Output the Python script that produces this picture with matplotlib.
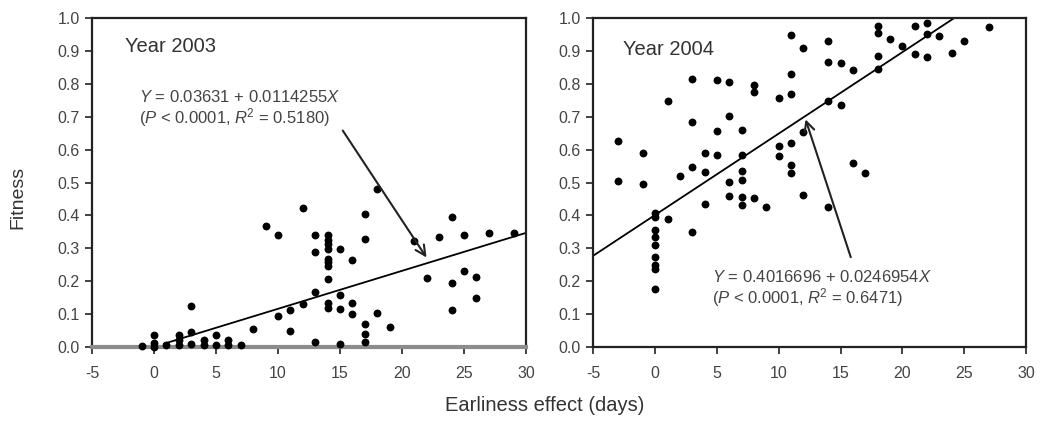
import matplotlib
matplotlib.use("Agg")
import matplotlib.pyplot as plt

plt.rcParams['font.family'] = ['Liberation Sans', 'DejaVu Sans']
plt.rcParams['axes.unicode_minus'] = False
plt.rcParams['mathtext.fontset'] = 'custom'
plt.rcParams['mathtext.rm'] = 'Liberation Sans'
plt.rcParams['mathtext.it'] = 'Liberation Sans:italic'

# Year 2003 - earliness effect (days) vs fitness
x_2003 = [-1, 0, 0, 0, 1, 2, 2, 2, 3, 3, 3, 4, 4, 5, 5, 6, 6, 7, 8,
          9, 10, 10, 11, 11, 12, 12, 13, 13, 13, 13,
          14, 14, 14, 14, 14, 14, 14, 14, 14, 14,
          15, 15, 15, 15, 16, 16, 16, 17, 17, 17, 17, 17,
          18, 18, 19, 21, 22, 23, 24, 24, 24, 25, 25, 26, 26, 27, 29]
y_2003 = [0.003, 0.035, 0.013, 0.0, 0.005, 0.035, 0.02, 0.005, 0.125, 0.047, 0.008,
          0.02, 0.005, 0.035, 0.005, 0.02, 0.005, 0.005, 0.055,
          0.367, 0.34, 0.094, 0.112, 0.048, 0.423, 0.132, 0.342, 0.29, 0.166, 0.015,
          0.342, 0.326, 0.313, 0.299, 0.268, 0.258, 0.245, 0.206, 0.135, 0.118,
          0.299, 0.158, 0.115, 0.01, 0.265, 0.135, 0.10, 0.403, 0.328, 0.071, 0.041, 0.015,
          0.479, 0.103, 0.061, 0.323, 0.211, 0.333, 0.394, 0.194, 0.112, 0.342, 0.231,
          0.214, 0.148, 0.347, 0.347]
fit_2003_x = [0.8, 30]
fit_2003_y = [0.01, 0.347]

# Year 2004
x_2004 = [-3, -3, -1, -1, 0, 0, 0, 0, 0, 0, 0, 0, 0, 1, 1, 2, 3, 3, 3, 3,
          4, 4, 4, 5, 5, 5, 6, 6, 6, 6, 7, 7, 7, 7, 7, 7, 8, 8, 8, 9,
          10, 10, 10, 11, 11, 11, 11, 11, 11, 12, 12, 12,
          14, 14, 14, 14, 15, 15, 16, 16, 17, 18, 18, 18, 18, 19, 20,
          21, 21, 22, 22, 22, 23, 24, 25, 27]
y_2004 = [0.625, 0.505, 0.59, 0.495, 0.406, 0.395, 0.355, 0.334, 0.309, 0.273, 0.248, 0.238, 0.176,
          0.749, 0.39, 0.52, 0.815, 0.683, 0.548, 0.35,
          0.589, 0.531, 0.434, 0.811, 0.658, 0.584, 0.805, 0.701, 0.502, 0.459,
          0.661, 0.584, 0.535, 0.508, 0.457, 0.431, 0.798, 0.775, 0.452, 0.426,
          0.757, 0.61, 0.582, 0.948, 0.829, 0.768, 0.62, 0.553, 0.53, 0.91, 0.462, 0.655,
          0.93, 0.865, 0.749, 0.426, 0.862, 0.735, 0.841, 0.559, 0.53,
          0.976, 0.956, 0.885, 0.846, 0.936, 0.915,
          0.976, 0.892, 0.985, 0.953, 0.883, 0.946, 0.895, 0.93, 0.974]
fit_2004_x = [-5, 24.2]
fit_2004_y = [0.278, 1.0]

panels = [
    dict(x=x_2003, y=y_2003, fx=fit_2003_x, fy=fit_2003_y, title='Year 2003',
         title_xy=(-2.3, 0.915),
         eq='$\\it{Y}$ = 0.03631 + 0.0114255$\\it{X}$',
         stat='($\\it{P}$ < 0.0001, $\\it{R}$$^2$ = 0.5180)',
         eq_xy=(-1.2, 0.76), arrow_from=(15.1, 0.665), arrow_to=(22.1, 0.265)),
    dict(x=x_2004, y=y_2004, fx=fit_2004_x, fy=fit_2004_y, title='Year 2004',
         title_xy=(-2.6, 0.905),
         eq='$\\it{Y}$ = 0.4016696 + 0.0246954$\\it{X}$',
         stat='($\\it{P}$ < 0.0001, $\\it{R}$$^2$ = 0.6471)',
         eq_xy=(4.6, 0.212), arrow_from=(15.9, 0.265), arrow_to=(12.1, 0.70)),
]

fig = plt.figure(figsize=(10.42, 4.25), dpi=100)
ax_l = fig.add_axes([0.0883, 0.1835, 0.4165, 0.774])
ax_r = fig.add_axes([0.5695, 0.1835, 0.415, 0.774])

for ax, p in zip([ax_l, ax_r], panels):
    ax.scatter(p['x'], p['y'], s=32, color='black', zorder=3, linewidths=0,
               clip_on=False)
    ax.plot(p['fx'], p['fy'], color='black', lw=1.3, zorder=2)
    ax.set_xlim(-5, 30)
    ax.set_ylim(0, 1)
    ax.set_xticks(range(-5, 31, 5))
    ax.set_yticks([i / 10 for i in range(11)])
    ax.set_yticklabels(['%.1f' % (i / 10) for i in range(11)])
    ax.tick_params(direction='out', length=5, width=1.2, labelsize=11.5,
                   labelcolor='#444444', color='#222222', pad=4)
    ax.tick_params(axis='x', pad=9)
    for s in ax.spines.values():
        s.set_linewidth(1.6)
        s.set_color('#222222')
    ax.text(p['title_xy'][0], p['title_xy'][1], p['title'], fontsize=14.5,
            color='#333333', va='center', ha='left')
    ax.text(p['eq_xy'][0], p['eq_xy'][1], p['eq'], fontsize=12, color='#444444',
            va='center', ha='left')
    ax.text(p['eq_xy'][0], p['eq_xy'][1] - 0.062, p['stat'], fontsize=12,
            color='#444444', va='center', ha='left')
    ax.annotate('', xy=p['arrow_to'], xytext=p['arrow_from'],
                arrowprops=dict(arrowstyle='->', color='#222222', lw=1.5,
                                mutation_scale=18))

# left panel has a grey baseline at y=0
ax_l.spines['bottom'].set_color('#8c8c8c')
ax_l.spines['bottom'].set_linewidth(3)

fig.text(0.0175, 0.535, 'Fitness', rotation=90, fontsize=14, color='#333333',
         ha='center', va='center')
fig.text(0.523, 0.024, 'Earliness effect (days)', fontsize=14.5, color='#333333',
         ha='center', va='bottom')

fig.savefig('out.png', dpi=100)
